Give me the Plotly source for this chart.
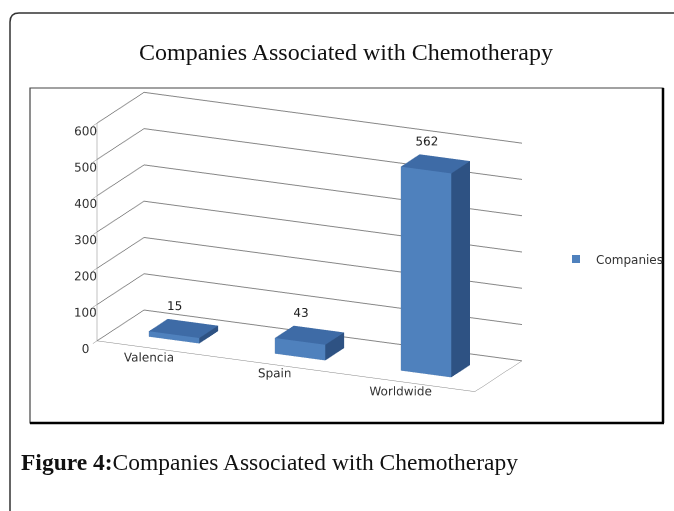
import plotly.graph_objects as go

categories = ["Valencia", "Spain", "Worldwide"]
companies = [15, 43, 562]
value_ticks = [0, 100, 200, 300, 400, 500, 600]
series_name = "Companies"

W, H = 674, 511
def px(x):
    return x / W
def py(y):
    return 1 - y / H

FRONT = "#4F81BD"
TOP = "#3E6BA6"
SIDE = "#2E5283"

# build cuboids in data units
bw, bd = 0.4, 0.4
xs, ys, zs, I, J, K, fc = [], [], [], [], [], [], []
for i, v in enumerate(companies):
    x0, x1 = i - bw / 2, i + bw / 2
    y0, y1 = 0.5 - bd / 2, 0.5 + bd / 2
    base = len(xs)
    verts = [(x0, y0, 0), (x1, y0, 0), (x1, y1, 0), (x0, y1, 0),
             (x0, y0, v), (x1, y0, v), (x1, y1, v), (x0, y1, v)]
    for (a, b, c) in verts:
        xs.append(a); ys.append(b); zs.append(c)
    faces = [((0, 1, 5), FRONT), ((0, 5, 4), FRONT),
             ((1, 2, 6), SIDE), ((1, 6, 5), SIDE),
             ((4, 5, 6), TOP), ((4, 6, 7), TOP),
             ((3, 2, 6), SIDE), ((3, 6, 7), SIDE),
             ((0, 3, 7), SIDE), ((0, 7, 4), SIDE),
             ((0, 1, 2), SIDE), ((0, 2, 3), SIDE)]
    for (a, b, c), col in faces:
        I.append(base + a); J.append(base + b); K.append(base + c); fc.append(col)

fig = go.Figure()
fig.add_trace(go.Mesh3d(
    x=xs, y=ys, z=zs, i=I, j=J, k=K, facecolor=fc, flatshading=True,
    lighting=dict(ambient=1, diffuse=0, specular=0, roughness=1, fresnel=0),
    hoverinfo="skip", showlegend=False, name=series_name))
fig.add_trace(go.Scatter3d(
    x=[i - 0.07 for i in range(len(companies))], y=[0.5] * len(companies),
    z=[v + 14 for v in companies], mode="text", text=[str(v) for v in companies],
    textfont=dict(family="DejaVu Sans", size=12, color="#222"),
    hoverinfo="skip", showlegend=False))
# legend entry
fig.add_trace(go.Scatter(x=[None], y=[None], mode="markers", name=series_name,
                         marker=dict(symbol="square", size=8, color=FRONT)))

S = 1.39
axfont = dict(family="DejaVu Sans", size=12, color="#333")
fig.update_layout(
    width=W, height=H, margin=dict(l=0, r=0, t=0, b=0),
    paper_bgcolor="white", plot_bgcolor="white",
    xaxis=dict(visible=False), yaxis=dict(visible=False),
    showlegend=True,
    legend=dict(x=px(556), y=py(259), xanchor="left", yanchor="middle",
                font=dict(family="DejaVu Sans", size=12, color="#333"),
                bgcolor="rgba(0,0,0,0)"),
    scene=dict(
        domain=dict(x=[px(47), px(572)], y=[py(406), py(78)]),
        aspectmode="manual", aspectratio=dict(x=1.82 * S, y=0.5 * S, z=1.0 * S),
        camera=dict(eye=dict(x=0.77, y=-1.7, z=0.58), center=dict(x=0, y=0, z=0),
                    up=dict(x=0, y=0, z=1), projection=dict(type="orthographic")),
        xaxis=dict(range=[-0.5, 2.5], tickvals=[0, 1, 2], ticktext=categories,
                   showgrid=False, zeroline=False, showline=True, linecolor="#868686",
                   showbackground=False, title=dict(text=""), tickfont=axfont,
                   ticks="outside", ticklen=18, tickcolor="rgba(0,0,0,0)",
                   showspikes=False, tickangle=0),
        yaxis=dict(range=[0, 1], showgrid=False, zeroline=False, showline=True,
                   linecolor="#868686", showticklabels=False, showbackground=False,
                   title=dict(text=""), ticks="", showspikes=False),
        zaxis=dict(range=[0, 600], tickvals=value_ticks,
                   ticktext=[str(t) for t in value_ticks], showgrid=True,
                   gridcolor="#868686", zeroline=False, showline=True,
                   linecolor="#868686", showbackground=False, title=dict(text=""),
                   tickfont=axfont, ticks="outside", tickcolor="#868686",
                   showspikes=False, tickangle=0),
    ),
)

# frames
fig.add_shape(type="path", xref="paper", yref="paper",
              path=f"M {px(10)},{py(515)} L {px(10)},{py(22)} Q {px(10)},{py(13)} {px(19)},{py(13)} L {px(680)},{py(13)}",
              line=dict(color="#333", width=1.5))
fig.add_shape(type="rect", xref="paper", yref="paper",
              x0=px(30), x1=px(663), y0=py(423), y1=py(88),
              line=dict(color="#444", width=1.2))
fig.add_shape(type="line", xref="paper", yref="paper",
              x0=px(663), x1=px(663), y0=py(423), y1=py(88),
              line=dict(color="#000", width=2.5))
fig.add_shape(type="line", xref="paper", yref="paper",
              x0=px(30), x1=px(664), y0=py(423), y1=py(423),
              line=dict(color="#000", width=2.5))

fig.add_annotation(text="Companies Associated with Chemotherapy", xref="paper", yref="paper",
                   x=px(346), y=py(52), xanchor="center", yanchor="middle", showarrow=False,
                   font=dict(family="Liberation Serif", size=24, color="#111"))
fig.add_annotation(text="<b>Figure 4:</b>Companies Associated with Chemotherapy",
                   xref="paper", yref="paper", x=px(19), y=py(462), xanchor="left",
                   yanchor="middle", showarrow=False,
                   font=dict(family="Liberation Serif", size=23.5, color="#111"))

fig.write_html("out.html", config={"displayModeBar": False},
               post_script="document.body.style.margin='0';document.body.style.overflow='hidden';")
